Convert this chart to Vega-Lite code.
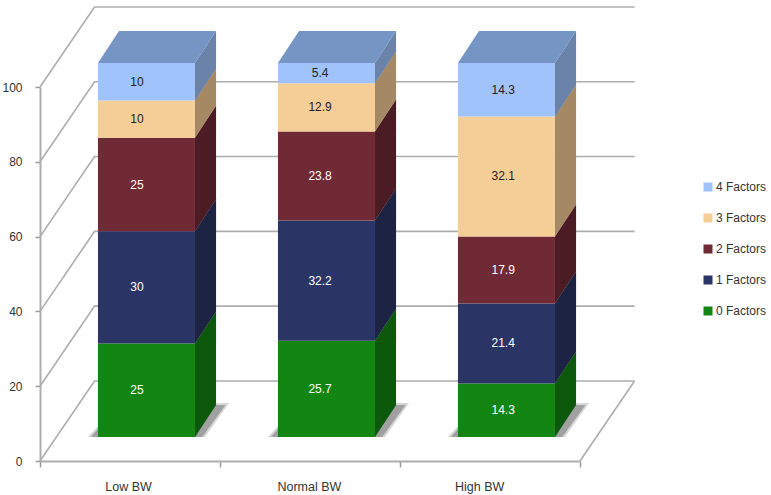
{
"$schema":"https://vega.github.io/schema/vega-lite/v6.json",
"width":771,"height":495,"padding":0,"autosize":{"type":"none"},
"background":"white",
"config":{"view":{"stroke":null},"font":"Liberation Sans","text":{"font":"Liberation Sans"}},
"data":{"values":[
{"group":"Low BW","idx":0,"factor":"0 Factors","value":25},
{"group":"Low BW","idx":0,"factor":"1 Factors","value":30},
{"group":"Low BW","idx":0,"factor":"2 Factors","value":25},
{"group":"Low BW","idx":0,"factor":"3 Factors","value":10},
{"group":"Low BW","idx":0,"factor":"4 Factors","value":10},
{"group":"Normal BW","idx":1,"factor":"0 Factors","value":25.7},
{"group":"Normal BW","idx":1,"factor":"1 Factors","value":32.2},
{"group":"Normal BW","idx":1,"factor":"2 Factors","value":23.8},
{"group":"Normal BW","idx":1,"factor":"3 Factors","value":12.9},
{"group":"Normal BW","idx":1,"factor":"4 Factors","value":5.4},
{"group":"High BW","idx":2,"factor":"0 Factors","value":14.3},
{"group":"High BW","idx":2,"factor":"1 Factors","value":21.4},
{"group":"High BW","idx":2,"factor":"2 Factors","value":17.9},
{"group":"High BW","idx":2,"factor":"3 Factors","value":32.1},
{"group":"High BW","idx":2,"factor":"4 Factors","value":14.3}
]},
"transform":[
{"stack":"value","groupby":["group"],"sort":[{"field":"factor","order":"ascending"}],"as":["v0","v1"]},
{"calculate":"datum.v0+6.42","as":"b0"},
{"calculate":"datum.v1+6.42","as":"b1"},
{"calculate":"datum.idx+0.322","as":"x0"},
{"calculate":"datum.idx+0.861","as":"x1"}
],
"layer":[
{"data":{"values":[{"v":0},{"v":20},{"v":40},{"v":60},{"v":80},{"v":100}]},
 "transform":[{"calculate":"[0,1,2]","as":"t"},{"flatten":["t"]},
  {"calculate":"[0,0.303,3.303][datum.t]","as":"wx"},
  {"calculate":"datum.v+(datum.t>0?21.4:0)","as":"wy"}],
 "mark":{"type":"line","color":"#adadad","strokeWidth":1.6},
 "encoding":{
  "x":{"field":"wx","type":"quantitative","scale":{"domain":[0,3],"range":[40,580],"nice":false,"zero":false},
   "axis":{"title":null,"grid":false,"orient":"bottom","offset":-34,"values":[0,0.489,1,1.494,2,2.44,3],
    "labelExpr":"datum.value==0.489?'Low BW':datum.value==1.494?'Normal BW':datum.value==2.44?'High BW':''",
    "labelOverlap":false,"labelFlush":false,"labelBound":false,"labelFont":"Liberation Sans","labelFontSize":12.5,"labelColor":"#333333","labelPadding":13,
    "tickOpacity":{"expr":"datum.value%1===0?1:0"},"tickSize":6,"tickColor":"#9a9a9a","tickWidth":1.5,"domainColor":"#adadad","domainWidth":2}},
  "y":{"field":"wy","type":"quantitative","scale":{"domain":[0,100],"range":[461,87],"nice":false,"zero":false},
   "axis":{"title":null,"grid":false,"orient":"left","offset":-40,"values":[0,20,40,60,80,100],"labelFont":"Liberation Sans","labelFontSize":12,"labelColor":"#333333","labelPadding":13,"tickSize":5,"tickColor":"#9a9a9a","tickWidth":1.5,"domainColor":"#adadad","domainWidth":2}},
  "detail":{"field":"v"}}},
{"data":{"values":[{"edge":"floor"}]},
 "transform":[{"calculate":"[0,1]","as":"t"},{"flatten":["t"]},
  {"calculate":"3+0.303*datum.t","as":"wx"},{"calculate":"21.4*datum.t","as":"wy"}],
 "mark":{"type":"line","color":"#adadad","strokeWidth":1.6},
 "encoding":{
  "x":{"field":"wx","type":"quantitative","scale":{"domain":[0,3],"range":[40,580],"nice":false,"zero":false}},
  "y":{"field":"wy","type":"quantitative","scale":{"domain":[0,100],"range":[461,87],"nice":false,"zero":false}}}},
{"transform":[{"filter":"datum.factor=='0 Factors'"},{"calculate":"[0,1,2,3]","as":"t"},{"flatten":["t"]},
  {"calculate":"[datum.x0-0.056,datum.x0+0.117,datum.x1+0.056,datum.x1+0.189][datum.t]","as":"sx"},
  {"calculate":"6.42+(datum.t==3?9.09:0)","as":"sa"},
  {"calculate":"6.42+(datum.t==0?0:9.09)","as":"sb"}],
 "mark":{"type":"area","color":"#8a8a8a","opacity":0.35},
 "encoding":{
  "x":{"field":"sx","type":"quantitative","scale":{"domain":[0,3],"range":[40,580],"nice":false,"zero":false}},
  "y":{"field":"sa","type":"quantitative","scale":{"domain":[0,100],"range":[461,87],"nice":false,"zero":false}},
  "y2":{"field":"sb"},"detail":{"field":"group"}}},
{"transform":[{"filter":"datum.factor=='0 Factors'"},{"calculate":"[0,1,2,3]","as":"t"},{"flatten":["t"]},
  {"calculate":"[datum.x0-0.04,datum.x0+0.117,datum.x1+0.04,datum.x1+0.17][datum.t]","as":"sx"},
  {"calculate":"6.42+(datum.t==3?8.56:0)","as":"sa"},
  {"calculate":"6.42+(datum.t==0?0:8.56)","as":"sb"}],
 "mark":{"type":"area","color":"#5f5f5f","opacity":0.45},
 "encoding":{
  "x":{"field":"sx","type":"quantitative","scale":{"domain":[0,3],"range":[40,580],"nice":false,"zero":false}},
  "y":{"field":"sa","type":"quantitative","scale":{"domain":[0,100],"range":[461,87],"nice":false,"zero":false}},
  "y2":{"field":"sb"},"detail":{"field":"group"}}},
{"transform":[{"calculate":"[0,1]","as":"t"},{"flatten":["t"]},
  {"calculate":"datum.x1+0.117*datum.t","as":"sx"},
  {"calculate":"datum.b0+8.56*datum.t","as":"sa"},
  {"calculate":"datum.b1+8.56*datum.t","as":"sb"}],
 "encoding":{
  "x":{"field":"sx","type":"quantitative","scale":{"domain":[0,3],"range":[40,580],"nice":false,"zero":false}},
  "y":{"field":"sa","type":"quantitative","scale":{"domain":[0,100],"range":[461,87],"nice":false,"zero":false}},
  "y2":{"field":"sb"},"detail":{"field":"group"}},
 "layer":[
  {"mark":{"type":"area"},"encoding":{"color":{"field":"factor","type":"nominal",
    "scale":{"domain":["4 Factors","3 Factors","2 Factors","1 Factors","0 Factors"],"range":["#a0c3fb","#f5cd96","#702a35","#2a3565","#138512"]}}}},
  {"mark":{"type":"area","color":"#000000","opacity":0.33},"encoding":{"detail":{"field":"factor"},"order":{"field":"group"}}}
 ]},
{"transform":[{"filter":"datum.factor=='4 Factors'"},{"calculate":"[0,1,2,3]","as":"t"},{"flatten":["t"]},
  {"calculate":"[datum.x0,datum.x0+0.117,datum.x1,datum.x1+0.117][datum.t]","as":"sx"},
  {"calculate":"datum.b1+(datum.t==3?8.56:0)","as":"sa"},
  {"calculate":"datum.b1+(datum.t==0?0:8.56)","as":"sb"}],
 "mark":{"type":"area","color":"#7596c4"},
 "encoding":{
  "x":{"field":"sx","type":"quantitative","scale":{"domain":[0,3],"range":[40,580],"nice":false,"zero":false}},
  "y":{"field":"sa","type":"quantitative","scale":{"domain":[0,100],"range":[461,87],"nice":false,"zero":false}},
  "y2":{"field":"sb"},"detail":{"field":"group"}}},
{"mark":{"type":"rect"},
 "encoding":{
  "x":{"field":"x0","type":"quantitative","scale":{"domain":[0,3],"range":[40,580],"nice":false,"zero":false}},
  "x2":{"field":"x1"},
  "y":{"field":"b0","type":"quantitative","scale":{"domain":[0,100],"range":[461,87],"nice":false,"zero":false}},
  "y2":{"field":"b1"},
  "color":{"field":"factor","type":"nominal",
   "scale":{"domain":["4 Factors","3 Factors","2 Factors","1 Factors","0 Factors"],"range":["#a0c3fb","#f5cd96","#702a35","#2a3565","#138512"]},
   "legend":{"title":null,"orient":"none","legendX":702,"legendY":181,"symbolType":"square","symbolSize":81,"labelFont":"Liberation Sans","labelFontSize":12,"labelColor":"#333333","labelOffset":2,"rowPadding":19}}}},
{"transform":[{"calculate":"datum.idx+0.539+0.017*datum.idx","as":"tx"},{"calculate":"(datum.b0+datum.b1)/2","as":"ty"}],
 "mark":{"type":"text","font":"Liberation Sans","fontSize":12,"baseline":"middle","align":"center"},
 "encoding":{
  "x":{"field":"tx","type":"quantitative","scale":{"domain":[0,3],"range":[40,580],"nice":false,"zero":false}},
  "y":{"field":"ty","type":"quantitative","scale":{"domain":[0,100],"range":[461,87],"nice":false,"zero":false}},
  "text":{"field":"value","type":"nominal"},
  "color":{"condition":{"test":"datum.factor=='3 Factors'||datum.factor=='4 Factors'","value":"#222222"},"value":"#ffffff"}}}
]
}
